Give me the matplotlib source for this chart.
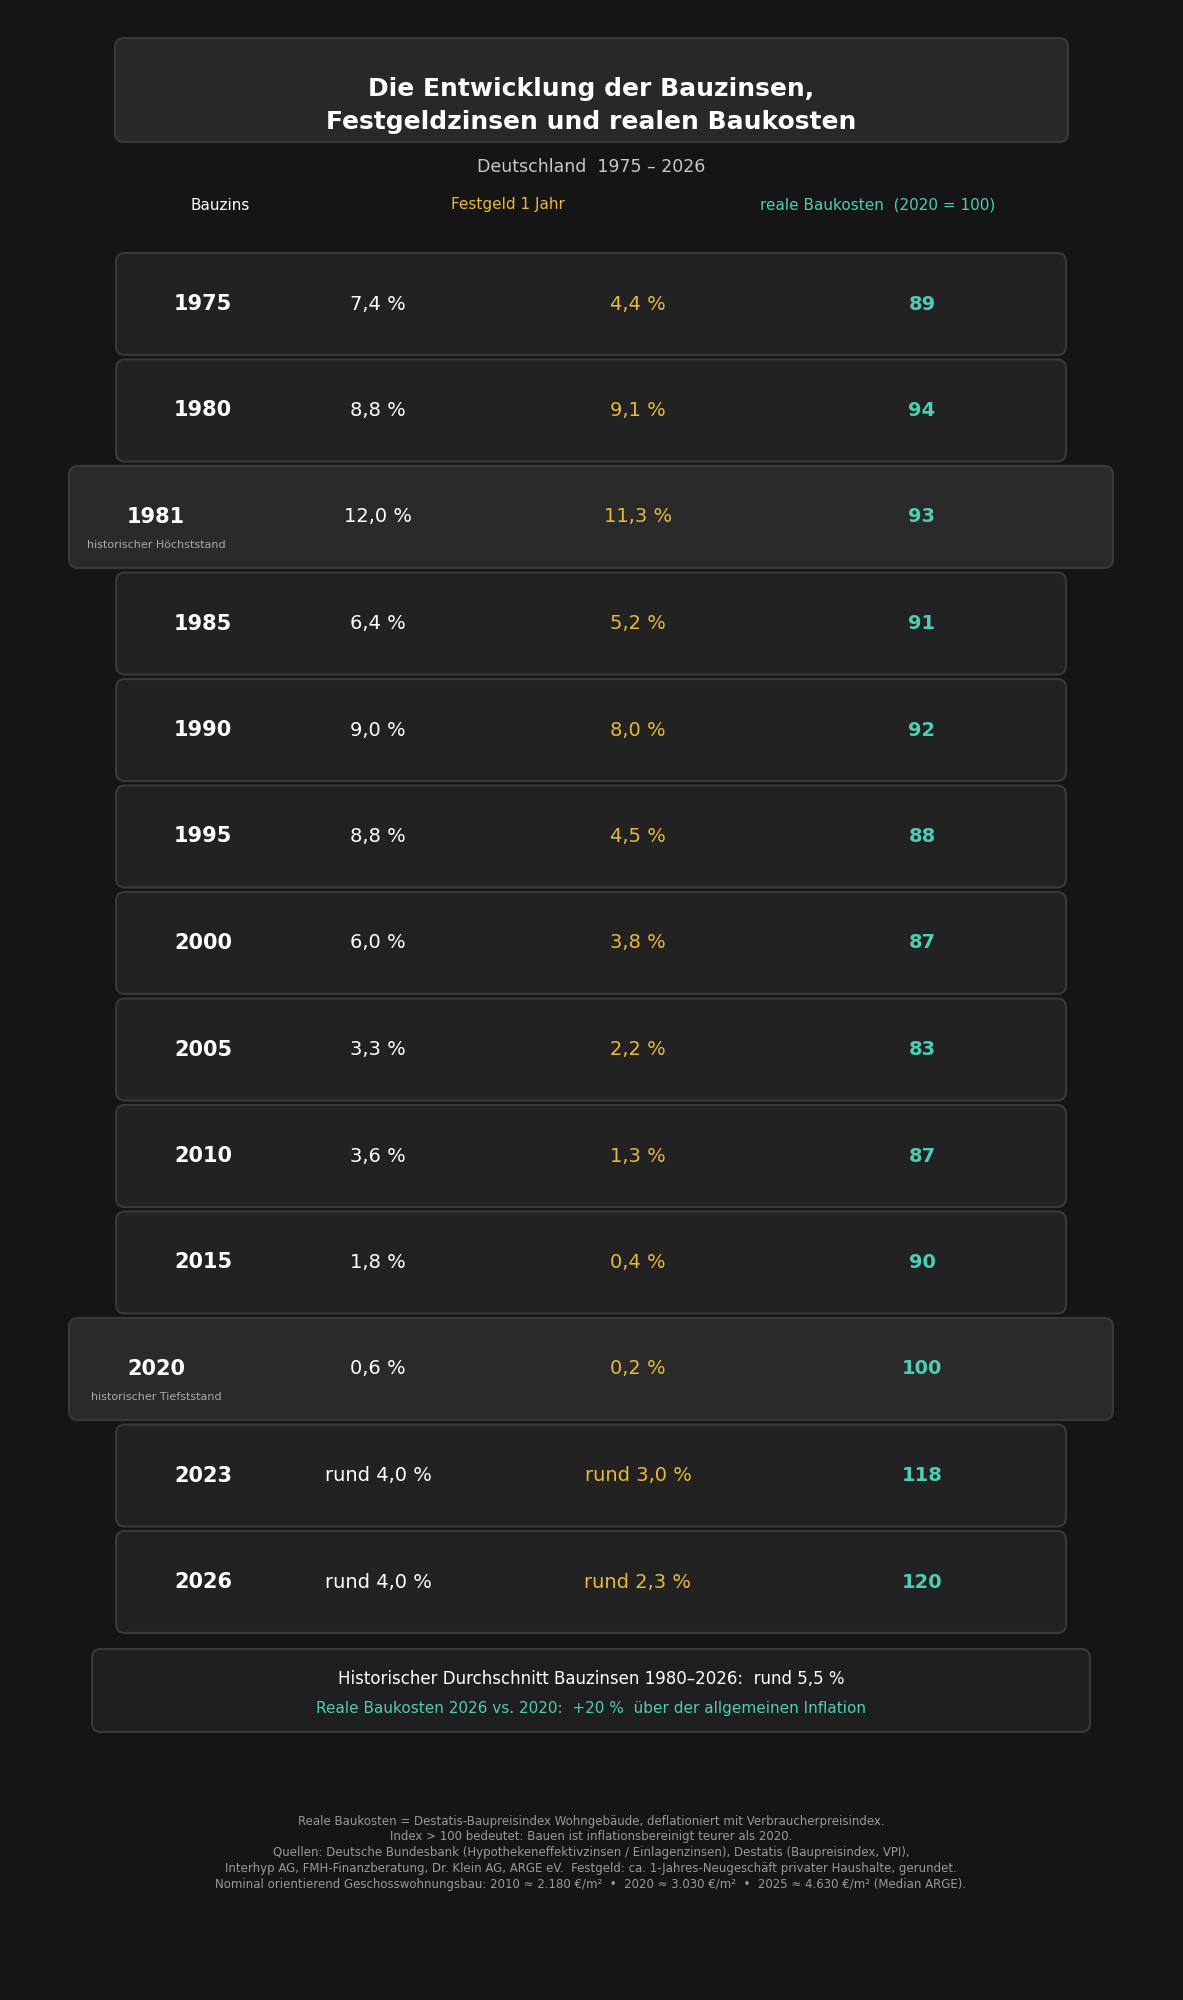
import matplotlib
matplotlib.use("Agg")
import matplotlib.pyplot as plt
from matplotlib.patches import FancyBboxPatch

years = ["1975","1980","1981","1985","1990","1995","2000","2005","2010","2015","2020","2023","2026"]
bauzins = ["7,4 %","8,8 %","12,0 %","6,4 %","9,0 %","8,8 %","6,0 %","3,3 %","3,6 %","1,8 %","0,6 %","rund 4,0 %","rund 4,0 %"]
festgeld = ["4,4 %","9,1 %","11,3 %","5,2 %","8,0 %","4,5 %","3,8 %","2,2 %","1,3 %","0,4 %","0,2 %","rund 3,0 %","rund 2,3 %"]
baukosten = [89,94,93,91,92,88,87,83,87,90,100,118,120]
notes = {"1981": "historischer Höchststand", "2020": "historischer Tiefststand"}
footnotes = [
    "Reale Baukosten = Destatis-Baupreisindex Wohngebäude, deflationiert mit Verbraucherpreisindex.",
    "Index > 100 bedeutet: Bauen ist inflationsbereinigt teurer als 2020.",
    "Quellen: Deutsche Bundesbank (Hypothekeneffektivzinsen / Einlagenzinsen), Destatis (Baupreisindex, VPI),",
    "Interhyp AG, FMH-Finanzberatung, Dr. Klein AG, ARGE eV.  Festgeld: ca. 1-Jahres-Neugeschäft privater Haushalte, gerundet.",
    "Nominal orientierend Geschosswohnungsbau: 2010 ≈ 2.180 €/m²  •  2020 ≈ 3.030 €/m²  •  2025 ≈ 4.630 €/m² (Median ARGE).",
]

BG = "#151515"; WHITE = "#ffffff"; GOLD = "#e8b93e"; TEAL = "#4ecdb4"
fig = plt.figure(figsize=(11.83, 20), dpi=100, facecolor=BG)
ax = fig.add_axes([0, 0, 1, 1]); ax.set_xlim(0, 1183); ax.set_ylim(2000, 0); ax.axis("off")
ax.set_facecolor(BG)

def box(x0, y0, x1, y1, fc, ec="#3a3a3a"):
    ax.add_patch(FancyBboxPatch((x0, y0), x1-x0, y1-y0, boxstyle="round,pad=0,rounding_size=9",
                                fc=fc, ec=ec, lw=1.5))

box(115, 38, 1068, 142, "#282828")
ax.text(591, 89, "Die Entwicklung der Bauzinsen,", color=WHITE, fontsize=18, fontweight="bold", ha="center", va="center")
ax.text(591, 122, "Festgeldzinsen und realen Baukosten", color=WHITE, fontsize=18, fontweight="bold", ha="center", va="center")
ax.text(591, 167, "Deutschland  1975 – 2026", color="#c8c8c8", fontsize=12.5, ha="center", va="center")
ax.text(220, 205, "Bauzins", color=WHITE, fontsize=11, ha="center", va="center")
ax.text(508, 205, "Festgeld 1 Jahr", color=GOLD, fontsize=11, ha="center", va="center")
ax.text(878, 205, "reale Baukosten  (2020 = 100)", color=TEAL, fontsize=11, ha="center", va="center")

for i, y in enumerate(years):
    cy = 304 + i * 106.5
    hl = y in notes
    if hl:
        box(69, cy - 51, 1113, cy + 51, "#2a2a2a")
        ax.text(156, cy, y, color=WHITE, fontsize=15, fontweight="bold", ha="center", va="center")
        ax.text(156, cy + 28, notes[y], color="#aaaaaa", fontsize=8, ha="center", va="center")
    else:
        box(116, cy - 51, 1066, cy + 51, "#222222")
        ax.text(203, cy, y, color=WHITE, fontsize=15, fontweight="bold", ha="center", va="center")
    ax.text(378, cy, bauzins[i], color=WHITE, fontsize=14, ha="center", va="center")
    ax.text(638, cy, festgeld[i], color=GOLD, fontsize=14, ha="center", va="center")
    ax.text(922, cy, str(baukosten[i]), color=TEAL, fontsize=14, fontweight="bold", ha="center", va="center")

box(92, 1649, 1090, 1732, "#1f1f1f")
ax.text(591, 1679, "Historischer Durchschnitt Bauzinsen 1980–2026:  rund 5,5 %", color=WHITE, fontsize=12, ha="center", va="center")
ax.text(591, 1709, "Reale Baukosten 2026 vs. 2020:  +20 %  über der allgemeinen Inflation", color=TEAL, fontsize=11, ha="center", va="center")

for j, t in enumerate(footnotes):
    ax.text(591, 1821 + j * 15.8, t, color="#9a9a9a", fontsize=8.5, ha="center", va="center")

fig.savefig("out.png", dpi=100, facecolor=BG)
